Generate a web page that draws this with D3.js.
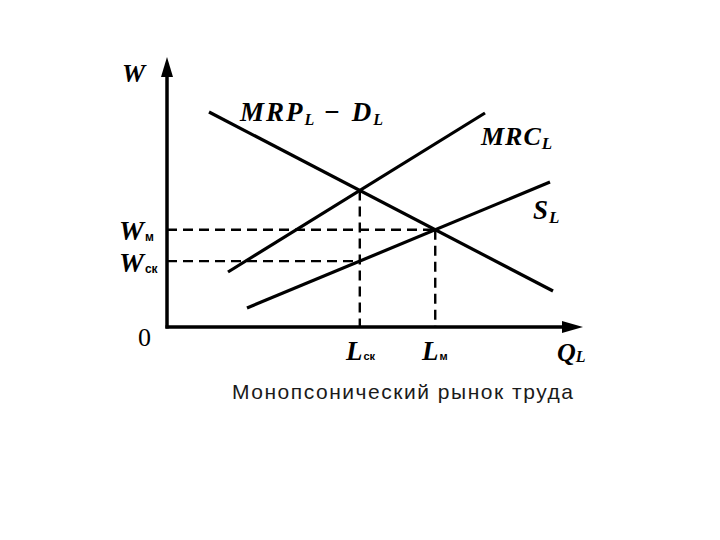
<!DOCTYPE html>
<meta charset="utf-8">
<html>
<script src="https://d3js.org/d3.v7.min.js"></script>
<style>
  body { margin: 0; background: #fff; }
</style>
<body>
<div id="chart"></div>
<script>

// lines given by two end points in chart units (0..100 on both axes)
var demandLine = [[10.5, 86], [96.5, 14.4]];   // MRP_L = D_L
var mrcLine    = [[15.25, 22], [79.5, 85.6]];  // MRC_L
var supplyLine = [[20, 7.6], [95.75, 58]];     // S_L

var width = 720,
    height = 540;

var x = d3.scaleLinear().domain([0, 100]).range([167, 567]);
var y = d3.scaleLinear().domain([0, 100]).range([327, 77]);

var svg = d3.select("#chart")
  .append("svg")
    .attr("width", width)
    .attr("height", height);

// intersection of two lines
function cross(a, b) {
  var x1 = a[0][0], y1 = a[0][1], x2 = a[1][0], y2 = a[1][1];
  var x3 = b[0][0], y3 = b[0][1], x4 = b[1][0], y4 = b[1][1];
  var d = (x1 - x2) * (y3 - y4) - (y1 - y2) * (x3 - x4);
  var t = ((x1 - x3) * (y3 - y4) - (y1 - y3) * (x3 - x4)) / d;
  return [x1 + t * (x2 - x1), y1 + t * (y2 - y1)];
}
function lineAt(l, xv) {
  var k = (l[1][1] - l[0][1]) / (l[1][0] - l[0][0]);
  return l[0][1] + k * (xv - l[0][0]);
}

var pMono = cross(demandLine, mrcLine);       // L ск
var pComp = cross(demandLine, supplyLine);    // L м, W м
var wSk = lineAt(supplyLine, pMono[0]);       // W ск

var line = d3.line().x(function(d) { return x(d[0]); }).y(function(d) { return y(d[1]); });

// dashed guides
var dashes = [
  [[0, pComp[1]], [pComp[0], pComp[1]]],
  [[pComp[0], pComp[1]], [pComp[0], 0]],
  [[0, wSk], [pMono[0], wSk]],
  [[pMono[0], pMono[1]], [pMono[0], 0]]
];
svg.selectAll("path.dash")
  .data(dashes)
  .enter().append("path")
    .attr("class", "dash")
    .attr("d", line)
    .attr("fill", "none")
    .attr("stroke", "#000")
    .attr("stroke-width", 2.4)
    .attr("stroke-dasharray", "10,6");

// curves
svg.selectAll("path.curve")
  .data([demandLine, mrcLine, supplyLine])
  .enter().append("path")
    .attr("class", "curve")
    .attr("d", line)
    .attr("fill", "none")
    .attr("stroke", "#000")
    .attr("stroke-width", 3.2);

// axes
svg.append("line")
    .attr("x1", x(0)).attr("y1", y(0) + 1.5)
    .attr("x2", x(0)).attr("y2", 70)
    .attr("stroke", "#000").attr("stroke-width", 3.5);
svg.append("line")
    .attr("x1", x(0) - 1.5).attr("y1", y(0))
    .attr("x2", 570).attr("y2", y(0))
    .attr("stroke", "#000").attr("stroke-width", 3.5);
svg.append("path")
    .attr("d", "M" + x(0) + ",57 L" + (x(0) - 6) + ",77 L" + (x(0) + 6) + ",77 Z")
    .attr("fill", "#000");
svg.append("path")
    .attr("d", "M583," + y(0) + " L562," + (y(0) - 6) + " L562," + (y(0) + 6) + " Z")
    .attr("fill", "#000");

// labels
var serif = "'Liberation Serif', 'DejaVu Serif', serif";
var sans = "'Liberation Sans', Arial, sans-serif";
function label(xp, yp, main, sub, size, subSize, subDy, opts) {
  opts = opts || {};
  var t = svg.append("text")
      .attr("x", xp).attr("y", yp)
      .attr("font-family", serif)
      .attr("font-style", "italic")
      .attr("font-weight", "bold")
      .attr("font-size", size)
      .attr("letter-spacing", opts.ls || 0)
      .attr("fill", "#000");
  t.append("tspan").text(main);
  if (sub) {
    var s = t.append("tspan")
      .attr("dy", subDy)
      .attr("dx", opts.dx || 0)
      .attr("font-size", subSize)
      .text(sub);
    if (opts.upright) s.attr("font-style", "normal").attr("font-family", sans);
  }
  return t;
}

label(122, 82, "W", null, 26);
var mrp = svg.append("text")
    .attr("x", 240).attr("y", 121)
    .attr("font-family", serif)
    .attr("font-style", "italic")
    .attr("font-weight", "bold")
    .attr("font-size", 27)
    .attr("letter-spacing", 2)
    .attr("fill", "#000");
mrp.append("tspan").text("MRP");
mrp.append("tspan").attr("dy", 4).attr("font-size", 16).text("L");
mrp.append("tspan").attr("dy", -4).attr("font-style", "normal").attr("dx", 8).text("−");
mrp.append("tspan").attr("dx", 10).text("D");
mrp.append("tspan").attr("dy", 4).attr("font-size", 16).text("L");

label(481, 145, "MRC", "L", 26, 17, 4, {ls: 1});
label(533, 219, "S", "L", 27, 17, 4, {ls: 1});
label(119, 240, "W", "м", 28, 12, 1, {upright: true, dx: 1});
label(119, 272, "W", "ск", 28, 12, 1, {upright: true, dx: 1});
label(346, 360, "L", "ск", 27, 11, 0, {upright: true, dx: 1});
label(422, 360, "L", "м", 27, 11, 0, {upright: true, dx: 1});
label(557, 361, "Q", "L", 26, 16, 1);

svg.append("text")
    .attr("x", 138).attr("y", 346)
    .attr("font-family", serif)
    .attr("font-size", 26)
    .attr("fill", "#000")
    .text("0");

svg.append("text")
    .attr("x", 232).attr("y", 399)
    .attr("font-family", sans)
    .attr("font-size", 21)
    .attr("textLength", 341)
    .attr("lengthAdjust", "spacing")
    .attr("fill", "#1a1a1a")
    .text("Монопсонический рынок труда");

</script>
</body>
</html>
